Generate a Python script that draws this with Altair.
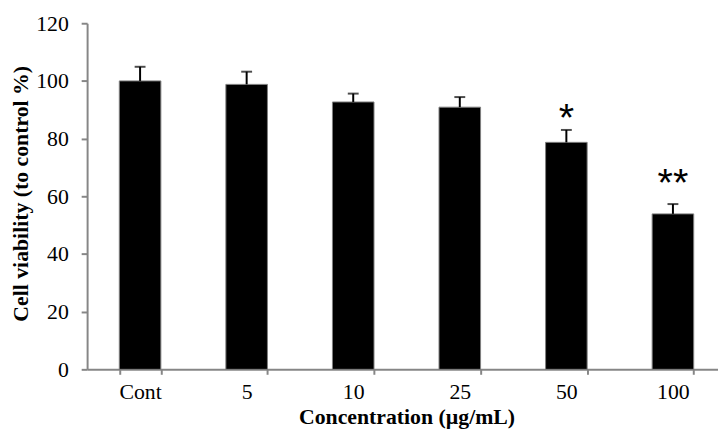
import altair as alt
import pandas as pd

categories = ["Cont", "5", "10", "25", "50", "100"]
viability = [100.0, 98.8, 92.7, 90.9, 78.7, 53.9]
errors = [4.9, 4.4, 2.9, 3.5, 4.3, 3.4]
stars = ["", "", "", "", "*", "**"]
star_y = [None, None, None, None, 89.8, 67.2]

df = pd.DataFrame({
    "cat": categories,
    "val": viability,
    "err": errors,
    "top": [v + e for v, e in zip(viability, errors)],
    "star": stars,
    "star_y": star_y,
})

AX = "#868686"
# band step ~107.7 px on a 638 px wide plot, last band runs past the right edge
xscale = alt.Scale(paddingInner=0.61, paddingOuter=0.265, align=0.57, round=False)
xenc = alt.X(
    "cat:N",
    sort=categories,
    scale=xscale,
    axis=alt.Axis(
        title="Concentration (µg/mL)",
        labelAngle=0,
        tickBand="extent",
        domainColor=AX, domainWidth=2,
        tickColor=AX, tickWidth=2, tickSize=5,
        labelFont="Liberation Serif", labelFontSize=22, labelColor="black",
        labelPadding=8,
        titleFont="Liberation Serif", titleFontSize=22, titleFontWeight="bold",
        titleColor="black", titlePadding=4,
        titleX=323,
    ),
)
xplain = alt.X("cat:N", sort=categories, scale=xscale)
yscale = alt.Scale(domain=[0, 120], nice=False)

bars = alt.Chart(df).mark_bar(color="black", stroke="#808080", strokeWidth=1).encode(
    x=xenc,
    y=alt.Y(
        "val:Q",
        scale=yscale,
        axis=alt.Axis(
            title="Cell viability (to control %)",
            values=[0, 20, 40, 60, 80, 100, 120],
            domainColor=AX, domainWidth=2,
            tickColor=AX, tickWidth=2, tickSize=6,
            labelFont="Liberation Serif", labelFontSize=22, labelColor="black",
            labelPadding=13,
            titleFont="Liberation Serif", titleFontSize=22, titleFontWeight="bold",
            titleColor="black", titleBaseline="middle", titleX=-67, titleY=172,
        ),
    ),
)

err_rule = alt.Chart(df).mark_rule(color="black", strokeWidth=2).encode(
    x=xplain,
    y=alt.Y("val:Q", scale=yscale),
    y2="top:Q",
)
err_cap = alt.Chart(df).mark_tick(color="black", thickness=2, size=11).encode(
    x=xplain,
    y=alt.Y("top:Q", scale=yscale),
)
star_text = alt.Chart(df).transform_filter("datum.star != ''").mark_text(
    font="Liberation Sans", fontSize=40, color="black", baseline="middle", dy=9
).encode(
    x=xplain,
    y=alt.Y("star_y:Q", scale=yscale),
    text="star:N",
)

chart = alt.layer(bars, err_rule, err_cap, star_text).properties(
    width=638,
    height=350,
    background="white",
    autosize=alt.AutoSizeParams(type="none"),
    padding={"left": 80, "top": 13, "right": 0, "bottom": 64},
).configure_view(stroke=None).configure_axis(grid=False)

chart.save("out.html", embed_options={"renderer": "svg", "actions": False})
